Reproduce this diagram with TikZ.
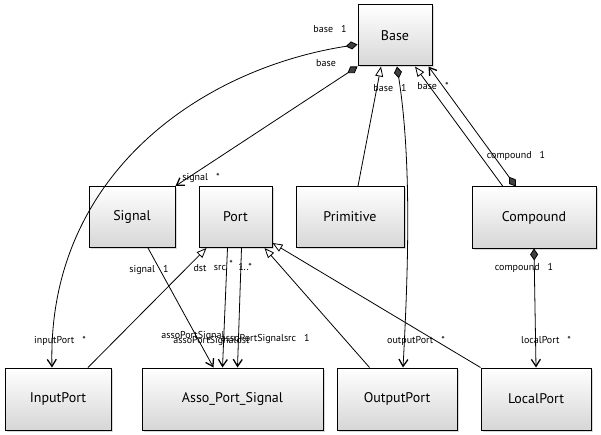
\documentclass[tikz,border=0pt]{standalone}
\usepackage{fontspec}
\setmainfont{PT Sans}
\usetikzlibrary{positioning,shadows,arrows.meta}
\newcommand{\mult}{\hspace{8pt}}

\begin{document}
\begin{tikzpicture}[x=1pt,y=-1pt,line width=0.8pt,
    cls/.style={draw,line width=1pt,minimum height=61pt,inner sep=0pt,
        top color=white,bottom color=black!16,font=\fontsize{14}{16}\selectfont,
        drop shadow={shadow xshift=1.5pt,shadow yshift=-1.5pt,opacity=0.25,fill=black!60}},
    lbl/.style={font=\fontsize{10}{11}\selectfont,inner sep=1pt},
    nav/.style={-{Straight Barb[length=7pt,width=9pt,line width=1.3pt]}},
    isa/.style={-{Triangle[open,length=10pt,width=8pt,fill=white]}},
    compnav/.style={{Diamond[length=12pt,width=8pt,fill=black!75]}-{Straight Barb[length=7pt,width=9pt,line width=1.3pt]}}]
    \useasboundingbox (0,0) rectangle (601,435);
    % classes
    \node[cls,minimum width=74pt] (base) at (395,35.5) {Base};
    \node[cls,minimum width=86pt] (signal) at (132,217) {Signal};
    \node[cls,minimum width=73pt,right=23pt of signal] (port) {Port};
    \node[cls,minimum width=108pt,right=23pt of port] (primitive) {Primitive};
    \node[cls,minimum width=124pt] (compound) at (534,217.5) {Compound};
    \node[cls,minimum width=106pt,minimum height=62pt] (inputport) at (58,399) {InputPort};
    \node[cls,minimum width=181pt,minimum height=62pt] (asso) at (232.5,399) {Asso\_Port\_Signal};
    \node[cls,minimum width=120pt,minimum height=62pt] (outputport) at (397,399) {OutputPort};
    \node[cls,minimum width=110pt,minimum height=62pt] (localport) at (536,399) {LocalPort};
    % associations
    \draw[compnav] ([yshift=-9pt]base.west) .. controls +(-160,25) and +(-5,-190) .. ([xshift=-6pt]inputport.north);
    \draw[compnav] (base.south west) -- (signal.north east);
    \draw[compnav] ([xshift=2pt]base.south) .. controls +(14,90) and +(6,-110) .. ([xshift=6pt]outputport.north);
    \draw[compnav] ([xshift=-18pt]compound.north) -- ([xshift=-4pt]base.south east);
    \draw[compnav] (compound.south) -- (localport.north);
    \draw[nav] ([xshift=16pt]signal.south) -- ([xshift=-19pt]asso.north);
    \draw[nav] ([xshift=-8pt]port.south) -- ([xshift=-10pt]asso.north);
    \draw[nav] ([xshift=6pt]port.south) -- ([xshift=5pt]asso.north);
    % inheritance
    \draw[isa] ([xshift=8pt]primitive.north) -- ([xshift=-14pt]base.south);
    \draw[isa] ([xshift=-31pt]compound.north) -- ([xshift=20pt]base.south);
    \draw[isa] ([xshift=30pt]inputport.north) -- ([xshift=8pt]port.south west);
    \draw[isa] ([xshift=33pt]outputport.north west) -- ([xshift=-8pt]port.south east);
    \draw[isa] (localport.north west) -- ([yshift=5pt]port.south east);
    % role labels
    \node[lbl] (l1) at (330,29) {base\mult 1};
    \node[lbl] (l2) at (326,63) {base};
    \node[lbl] (l3) at (201,178) {signal\mult *};
    \node[lbl] (l4) at (390,88) {base\mult 1};
    \node[lbl] (l5) at (433,86) {base\mult *};
    \node[lbl] (l6) at (516,156) {compound\mult 1};
    \node[lbl] (l7) at (524,268) {compound\mult 1};
    \node[lbl] (l8) at (546,340) {localPort\mult *};
    \node[lbl] (l9) at (416,341) {outputPort\mult *};
    \node[lbl] (l10) at (60,341) {inputPort\mult *};
    \node[lbl] (l11) at (149,270) {signal\mult 1};
    \node[lbl] (l12) at (200,268) {dst};
    \node[lbl] (l13) at (220,268) {src};
    \node[lbl] (l14) at (231,264) {*};
    \node[lbl] (l15) at (245,267) {1..*};
    \node[lbl,anchor=west] (l16) at (160,336) {assoPortSignal};
    \node[lbl,anchor=west] (l17) at (172,341) {assoPortSignaldst};
    \node[lbl,anchor=east] (l18) at (311,339) {assoPortSignalsrc\mult 1};
\end{tikzpicture}
\end{document}
